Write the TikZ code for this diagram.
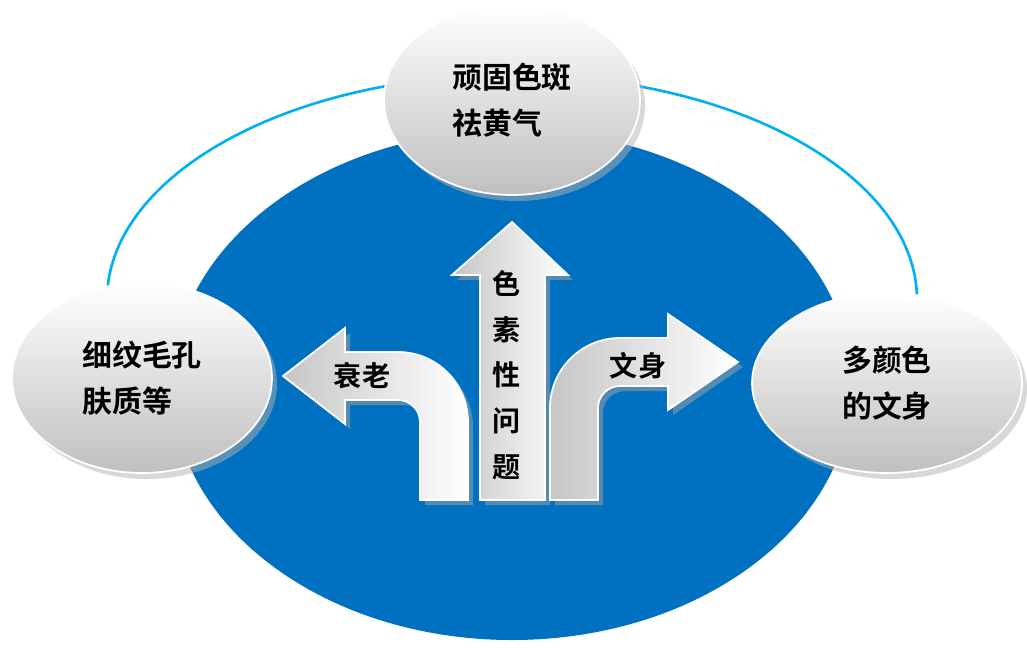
\documentclass[tikz,border=0pt]{standalone}
\usepackage{fontspec}
\newfontfamily\cjk{Noto Sans CJK SC}[BoldFont={Noto Sans CJK SC Bold}]
\usetikzlibrary{shapes.geometric}
\definecolor{ringcolor}{RGB}{0,176,240}
\definecolor{discolor}{RGB}{0,112,192}
\tikzset{
  topic/.style={ellipse, draw=white, line width=1pt, top color=white, bottom color=gray!50,
    font=\cjk\bfseries\fontsize{17}{26}\selectfont, align=left, text=black},
  arrowbody/.style={left color=gray!45, right color=white, draw=white, line width=1pt},
  arrowshadow/.style={fill=black!35, opacity=0.5},
  label/.style={font=\cjk\bfseries\fontsize{16}{22}\selectfont, text=black}
}
\begin{document}
\begin{tikzpicture}[x=0.02cm, y=0.02cm]
\useasboundingbox (0,0) rectangle (1027,647);

% Outer ring and disc
\draw[ringcolor, line width=1.5pt] (512,347) ellipse (405 and 225);
\fill[discolor] (512,262) ellipse (340 and 255);

% Topic ellipses
\fill[black!30, opacity=0.5] (517,541) ellipse (128 and 95);
\node[topic, minimum width=5.12cm, minimum height=3.8cm] (spots) at (512,547) {顽固色斑\\祛黄气};
\fill[black!30, opacity=0.5] (147,263) ellipse (130 and 95);
\node[topic, minimum width=5.2cm, minimum height=3.8cm] (skin) at (142,269) {细纹毛孔\\肤质等};
\fill[black!30, opacity=0.5] (892,258) ellipse (135 and 90);
\node[topic, minimum width=5.4cm, minimum height=3.6cm] (tattoo) at (887,264) {多颜色\\的文身};

% Arrows (shadow, then body)
\begin{scope}[shift={(5,-5)}]
  \fill[arrowshadow] (468,147) -- (468,225) arc (0:90:70) -- (345,295) -- (345,319) -- (283,271)
    -- (345,223) -- (345,247) -- (398,247) arc (90:0:22) -- (420,147) -- cycle;
  \fill[arrowshadow] (480,147) -- (480,372) -- (452,372) -- (512,425) -- (568,372) -- (545,372) -- (545,147) -- cycle;
  \fill[arrowshadow] (550,147) -- (550,239) arc (180:90:70) -- (668,309) -- (668,333) -- (738,285)
    -- (668,237) -- (668,261) -- (620,261) arc (90:180:22) -- (598,147) -- cycle;
\end{scope}
\draw[arrowbody] (468,147) -- (468,225) arc (0:90:70) -- (345,295) -- (345,319) -- (283,271)
  -- (345,223) -- (345,247) -- (398,247) arc (90:0:22) -- (420,147) -- cycle;
\draw[arrowbody] (480,147) -- (480,372) -- (452,372) -- (512,425) -- (568,372) -- (545,372) -- (545,147) -- cycle;
\draw[arrowbody] (550,147) -- (550,239) arc (180:90:70) -- (668,309) -- (668,333) -- (738,285)
  -- (668,237) -- (668,261) -- (620,261) arc (90:180:22) -- (598,147) -- cycle;

% Arrow labels
\node[label, align=center, font=\cjk\bfseries\fontsize{16}{26}\selectfont] (pigment) at (507,272) {色\\素\\性\\问\\题};
\node[label] (aging) at (362,271) {衰老};
\node[label] (tattooing) at (638,281) {文身};
\end{tikzpicture}
\end{document}
